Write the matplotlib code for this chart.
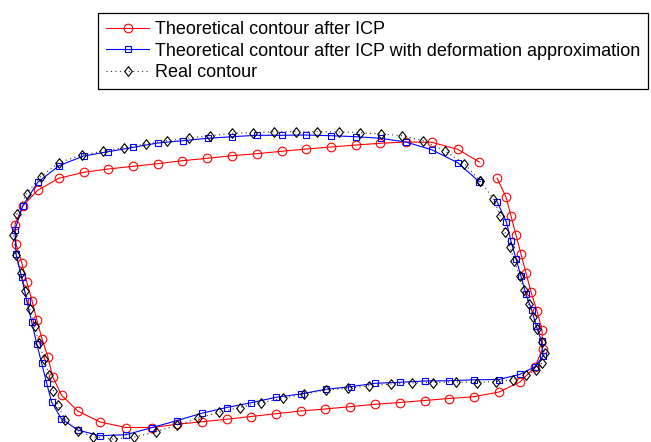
import matplotlib
matplotlib.use("Agg")
import matplotlib.pyplot as plt

plt.rcParams['font.family'] = ['Liberation Sans', 'DejaVu Sans']

# Theoretical contour after ICP (red, circles)
red_x = [497, 506, 511, 516, 521, 526, 531, 537, 542, 542.5, 535, 520, 499,
         474, 449, 424.5, 400, 375, 350, 325, 300.7, 276, 251, 226.7, 201.5, 176.7, 152.3, 126, 100, 77.7, 61.7,
         52.5, 48, 42, 36.7, 32, 26.7, 21.7, 16, 15, 22.7, 37.7, 58.7,
         83.7, 108.3, 133, 157.7, 182.3, 207.3, 231.7, 256.7, 281.7, 306.3, 331, 356, 380, 405.7, 431.7, 457.7, 479.3]
red_y = [178, 197, 216, 235, 254, 273, 292, 311, 330, 349, 367, 382, 392,
         396.7, 398.5, 400.5, 402.5, 404.3, 406.7, 409, 411, 413.7, 416.5, 419.2, 421.8, 424.3, 427.5, 427.5, 422, 411, 395.3,
         376.5, 357.2, 338.7, 319.7, 300.5, 281.7, 262.7, 244, 224.5, 206, 190.3, 178.3,
         172.3, 169, 166.3, 163.7, 160.7, 158.3, 155.7, 153.7, 151.3, 149, 147, 145, 143.3, 142, 142.3, 149.3, 162]

# Theoretical contour after ICP with deformation approximation (blue, squares)
blue_x = [497, 506.3, 511, 516, 521, 526, 531.7, 536.3, 541.5, 543, 535, 520, 499,
          474.3, 449.2, 424.5, 399.5, 375, 350.7, 325.7, 300.7, 276, 251.3, 226.7, 201.5, 176.7, 152.3, 126, 99.7, 77.7, 61.3,
          51.7, 46.7, 41.7, 36.7, 31.7, 26.7, 21.7, 16, 15, 22.7, 37.7, 59,
          83.7, 108.3, 133.3, 157.7, 182.7, 207.7, 232.3, 256.7, 281.7, 306.3, 331, 356, 380.7, 405.7, 431.7, 457.7, 479.3]
blue_y = [201.5, 221.7, 241.3, 258.7, 276.3, 294.2, 310, 326, 341.3, 356, 366.7, 374.3, 379.5,
          379.8, 380.7, 381, 382.3, 383.3, 386.7, 389.3, 394, 397.3, 402.7, 407.5, 413.3, 420.7, 427.5, 434.7, 435.7, 430, 418.7,
          402.3, 383.3, 363.3, 343.7, 321.7, 300.5, 277.3, 254, 229.7, 206, 182.3, 165.7,
          156, 151.7, 147.3, 143, 140.7, 138.3, 136.7, 135.3, 135.3, 135, 135.7, 136.7, 138.3, 142, 149.7, 162.7, 181.7]

# Real contour (black, diamonds, dotted)
real_x = [480, 493.3, 500, 505, 510, 514.3, 519.7, 524.2, 528.5, 533.3, 537, 542, 544.5, 542.3, 536, 526, 512.5, 496,
          476.7, 455.5, 433.3, 412.3, 390.8, 369.3, 348.3, 325.7, 304, 282.7, 261, 240, 219, 197.7, 176.7, 156, 134.2,
          112.8, 93.3, 77.7, 65.3, 57.7, 53.3, 49, 44, 39, 34.5, 30, 25, 20.7, 16, 13.3, 16.7, 26.7, 40.7, 59.3,
          81.5, 102.7, 124, 145.7, 167.3, 188.7, 210, 231.7, 253.3, 274.3, 296, 317.3, 338.7, 360, 380.7, 402, 423.3,
          445, 464.3, 480]
real_y = [181, 198.5, 215.5, 231.7, 247.3, 261, 276.3, 290, 303.8, 316.7, 329, 341.7, 353, 362.5, 370, 375, 379.7, 381.5,
          382.5, 382, 382.5, 383, 384, 385.7, 388.3, 390, 394, 398.3, 402.7, 407.5, 412.3, 418.3, 425.2, 431.7, 437.2,
          439, 437, 430.7, 419.7, 405, 390.5, 375, 358.5, 342.7, 326, 309.3, 290.7, 272.7, 254.5, 235, 214.3, 193.5, 176.5, 162.5,
          155, 151.3, 147.5, 144, 140.8, 138, 135.8, 133.3, 132.7, 131.7, 131.7, 131.7, 132, 132.7, 134, 135.7, 140.7,
          151, 163.5, 181]

labels = ["Theoretical contour after ICP",
          "Theoretical contour after ICP with deformation approximation",
          "Real contour"]

diamond = [(0, 1), (0.78, 0), (0, -1), (-0.78, 0), (0, 1)]

fig = plt.figure(figsize=(6.51, 4.42), dpi=100)
ax = fig.add_axes([0, 0, 1, 1])
ax.plot(red_x, red_y, '-', color='#ff0000', lw=0.8, marker='o', ms=6.2,
        mfc='none', mec='#ff0000', mew=0.8, label=labels[0])
ax.plot(blue_x, blue_y, '-', color='#0000ff', lw=0.8, marker='s', ms=4.8,
        mfc='none', mec='#0000ff', mew=0.8, label=labels[1])
ax.plot(real_x, real_y, color='#333333', lw=0.8, ls=(0, (1, 3)), marker=diamond, ms=7,
        mfc='none', mec='black', mew=0.8, label=labels[2])
ax.set_xlim(0, 651)
ax.set_ylim(442, 0)
ax.axis('off')

leg = ax.legend(loc='upper right', bbox_to_anchor=(648 / 651, 1 - 13 / 442),
                bbox_transform=fig.transFigure, fontsize=13, frameon=True,
                fancybox=False, edgecolor='black', framealpha=1,
                handlelength=2.4, handletextpad=0.3, borderpad=0.45,
                labelspacing=0.25, borderaxespad=0)
leg.get_frame().set_linewidth(0.9)

fig.savefig('out.png', dpi=100)
